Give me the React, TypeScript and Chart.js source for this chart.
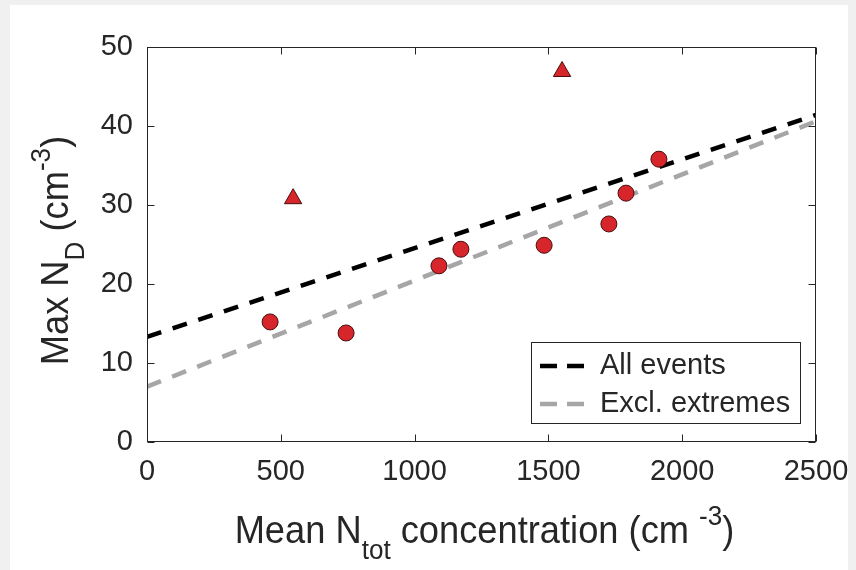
import React, { useEffect, useRef } from 'react';
import { Chart, registerables } from 'chart.js';

Chart.register(...registerables);

// ---- data ----
const circleX = [460, 744, 1091, 1173, 1484, 1726, 1790, 1913];
const circleY = [15.2, 13.8, 22.3, 24.4, 24.9, 27.6, 31.5, 35.8];
const triangleX = [546, 1551];
const triangleY = [30.8, 46.9];
const fitX = [0, 2500];
const allEventsFit = [13.3, 41.4];
const exclExtremesFit = [7.0, 40.6];
const xTicks = [0, 500, 1000, 1500, 2000, 2500];
const yTicks = [0, 10, 20, 30, 40, 50];
const legendLabels = ['All events', 'Excl. extremes'];

const FONT = '"Liberation Sans", Arial, Helvetica, sans-serif';
const TEXT = '#262626';
const RED = '#d7262b';
const BLACK_LINE = '#000000';
const GRAY_LINE = '#a6a6a6';

type Part = [string, number]; // 0 normal, 1 sub, 2 sup

function richWidth(ctx: CanvasRenderingContext2D, parts: Part[], size: number) {
  let w = 0;
  for (const [t, k] of parts) {
    const s = k === 0 ? size : size * 0.72;
    ctx.font = `${s}px ${FONT}`;
    w += ctx.measureText(t).width;
  }
  return w;
}

function drawRich(ctx: CanvasRenderingContext2D, parts: Part[], size: number, x: number, y: number, sx: number) {
  ctx.save();
  ctx.translate(x, y);
  ctx.scale(sx, 1);
  let cx = 0;
  ctx.textBaseline = 'alphabetic';
  ctx.textAlign = 'left';
  for (const [t, k] of parts) {
    const s = k === 0 ? size : size * 0.72;
    ctx.font = `${s}px ${FONT}`;
    const dy = k === 1 ? size * 0.42 : k === 2 ? -size * 0.45 : 0;
    ctx.fillText(t, cx, dy);
    cx += ctx.measureText(t).width;
  }
  ctx.restore();
}

const xTitle: Part[] = [['Mean N', 0], ['tot', 1], [' concentration (cm ', 0], ['-3', 2], [')', 0]];
const yTitle: Part[] = [['Max N', 0], ['D', 1], [' (cm', 0], ['-3', 2], [')', 0]];

const decorPlugin = {
  id: 'decor',
  beforeDraw(chart: any) {
    const { ctx, width, height } = chart;
    ctx.save();
    ctx.fillStyle = '#f0f0f0';
    ctx.fillRect(0, 0, width, height);
    ctx.fillStyle = '#ffffff';
    ctx.fillRect(10, 5, 838, height - 5);
    ctx.restore();
  },
  afterDraw(chart: any) {
    const { ctx, chartArea } = chart;
    const { left, right, top, bottom } = chartArea;
    const xs = chart.scales.x;
    const ys = chart.scales.y;
    ctx.save();
    // frame
    ctx.strokeStyle = TEXT;
    ctx.lineWidth = 1;
    const L = Math.round(left) + 0.5;
    const R = Math.round(right) - 0.5;
    const T = Math.round(top) + 0.5;
    const B = Math.round(bottom) - 0.5;
    ctx.strokeRect(L, T, R - L, B - T);
    // inward ticks
    const tl = 7;
    ctx.beginPath();
    for (const v of xTicks) {
      const px = Math.round(xs.getPixelForValue(v)) + 0.5;
      ctx.moveTo(px, B); ctx.lineTo(px, B - tl);
      ctx.moveTo(px, T); ctx.lineTo(px, T + tl);
    }
    for (const v of yTicks) {
      const py = Math.round(ys.getPixelForValue(v)) + 0.5;
      ctx.moveTo(L, py); ctx.lineTo(L + tl, py);
      ctx.moveTo(R, py); ctx.lineTo(R - tl, py);
    }
    ctx.stroke();

    // axis titles
    ctx.fillStyle = TEXT;
    const ts = 39;
    const sx = 0.93;
    const xw = richWidth(ctx, xTitle, ts) * sx;
    drawRich(ctx, xTitle, ts, (left + right) / 2 + 3 - xw / 2, 543, sx);
    const yw = richWidth(ctx, yTitle, ts) * sx;
    ctx.save();
    ctx.translate(68, (top + bottom) / 2 + 6);
    ctx.rotate(-Math.PI / 2);
    drawRich(ctx, yTitle, ts, -yw / 2, 0, sx);
    ctx.restore();

    // legend
    const lx0 = 531.5, ly0 = 342.5, lx1 = 800.5, ly1 = 423.5;
    ctx.fillStyle = '#ffffff';
    ctx.fillRect(lx0, ly0, lx1 - lx0, ly1 - ly0);
    ctx.strokeStyle = TEXT;
    ctx.lineWidth = 1;
    ctx.strokeRect(lx0, ly0, lx1 - lx0, ly1 - ly0);
    const rows = [366, 404];
    const colors = [BLACK_LINE, GRAY_LINE];
    rows.forEach((ry, i) => {
      ctx.strokeStyle = colors[i];
      ctx.lineWidth = 4.5;
      ctx.setLineDash([17, 10]);
      ctx.beginPath();
      ctx.moveTo(540, ry);
      ctx.lineTo(584, ry);
      ctx.stroke();
      ctx.setLineDash([]);
      ctx.fillStyle = TEXT;
      ctx.font = `29px ${FONT}`;
      ctx.textAlign = 'left';
      ctx.textBaseline = 'middle';
      ctx.fillText(legendLabels[i], 600, ry);
    });
    ctx.restore();
  },
};

export default function App() {
  const ref = useRef<HTMLCanvasElement>(null);
  useEffect(() => {
    document.body.style.margin = '0';
    const canvas = ref.current!;
    const chart = new Chart(canvas, {
      type: 'scatter',
      data: {
        datasets: [
          {
            label: 'events',
            data: circleX.map((x, i) => ({ x, y: circleY[i] })),
            pointStyle: 'circle',
            pointRadius: 8,
            backgroundColor: RED,
            borderColor: '#4a0d0d',
            borderWidth: 1,
            showLine: false,
            order: 0,
          },
          {
            label: 'extremes',
            data: triangleX.map((x, i) => ({ x, y: triangleY[i] })),
            pointStyle: 'triangle',
            pointRadius: 10,
            backgroundColor: RED,
            borderColor: '#4a0d0d',
            borderWidth: 1,
            showLine: false,
            order: 0,
          },
          {
            label: legendLabels[0],
            data: fitX.map((x, i) => ({ x, y: allEventsFit[i] })),
            showLine: true,
            pointRadius: 0,
            borderColor: BLACK_LINE,
            borderWidth: 4.5,
            borderDash: [15, 12],
            order: 1,
          },
          {
            label: legendLabels[1],
            data: fitX.map((x, i) => ({ x, y: exclExtremesFit[i] })),
            showLine: true,
            pointRadius: 0,
            borderColor: GRAY_LINE,
            borderWidth: 4.5,
            borderDash: [15, 12],
            order: 2,
          },
        ],
      },
      options: {
        responsive: false,
        animation: false,
        devicePixelRatio: 1,
        layout: { padding: { top: 47, right: 40, left: 0, bottom: 0 } },
        plugins: { legend: { display: false }, tooltip: { enabled: false } },
        scales: {
          x: {
            type: 'linear',
            min: 0,
            max: 2500,
            afterBuildTicks: (s: any) => { s.ticks = xTicks.map((v) => ({ value: v })); },
            grid: { display: false, drawTicks: false },
            border: { display: false },
            ticks: {
              font: { family: FONT, size: 29 },
              color: TEXT,
              padding: 13,
              maxRotation: 0,
              autoSkip: false,
              callback: (v: any) => String(v),
            },
            afterFit: (s: any) => {
              s.height = 128;
              s.paddingLeft = 0;
              s.paddingRight = 0;
            },
          },
          y: {
            type: 'linear',
            min: 0,
            max: 50,
            afterBuildTicks: (s: any) => { s.ticks = yTicks.map((v) => ({ value: v })); },
            grid: { display: false, drawTicks: false },
            border: { display: false },
            ticks: {
              font: { family: FONT, size: 29 },
              color: TEXT,
              padding: 14,
              autoSkip: false,
              callback: (v: any) => String(v),
            },
            afterFit: (s: any) => {
              s.width = 147;
              s.paddingTop = 0;
              s.paddingBottom = 0;
            },
          },
        },
      },
      plugins: [decorPlugin],
    });
    return () => chart.destroy();
  }, []);
  return (
    <div style={{ position: 'absolute', left: 0, top: 0, width: 856, height: 570 }}>
      <canvas ref={ref} width={856} height={570} />
    </div>
  );
}
